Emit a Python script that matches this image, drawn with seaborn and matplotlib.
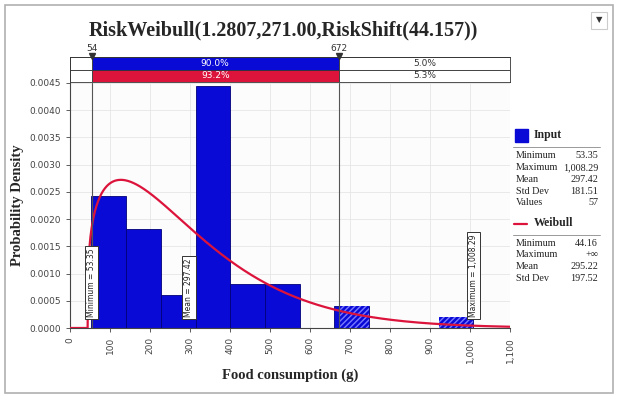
import numpy as np
import pandas as pd
import matplotlib
matplotlib.use("Agg")
import matplotlib.pyplot as plt
import seaborn as sns

# histogram of the input data (57 values, 11 bins from min to max)
bin_edges = [53.35, 140.16, 226.97, 313.78, 400.60, 487.41, 574.22,
             661.03, 747.84, 834.66, 921.47, 1008.29]
bin_counts = [12, 9, 3, 22, 4, 4, 0, 2, 0, 0, 1]

# fitted distribution
wb_shape, wb_scale, wb_shift = 1.2807, 271.00, 44.157

# delimiters and band percentages
left_mark, right_mark = 54, 672
band_input = ["90.0%", "5.0%"]
band_fit = ["93.2%", "5.3%"]

input_stats = [("Minimum", "53.35"), ("Maximum", "1,008.29"), ("Mean", "297.42"),
               ("Std Dev", "181.51"), ("Values", "57")]
fit_stats = [("Minimum", "44.16"), ("Maximum", "+\u221e"), ("Mean", "295.22"),
             ("Std Dev", "197.52")]

markers = [(53.35, "Minimum = 53.35"), (297.42, "Mean = 297.42"),
           (1008.29, "Maximum = 1,008.29")]

BLUE = "#0a0ad6"
RED = "#dc143c"
serif = "Liberation Serif"

sns.set_style("whitegrid")
plt.rcParams["font.family"] = ["DejaVu Sans"]

fig = plt.figure(figsize=(6.19, 4.01), dpi=100)
W, H = 619, 401


def px(x0, y0, x1, y1):
    return [x0 / W, 1 - y1 / H, (x1 - x0) / W, (y1 - y0) / H]


ax = fig.add_axes(px(70, 83, 510, 328))
ax.set_facecolor("#fcfcfc")

centers = [(a + b) / 2 for a, b in zip(bin_edges[:-1], bin_edges[1:])]
df = pd.DataFrame({"x": centers, "w": bin_counts})
sns.histplot(data=df, x="x", weights="w", bins=bin_edges, stat="density",
             color=BLUE, alpha=1, edgecolor="#00007a", linewidth=0.6, ax=ax)

# hatched part of the bars beyond the right delimiter
widths = np.diff(bin_edges)
dens = np.array(bin_counts) / (sum(bin_counts) * widths)
for i, d in enumerate(dens):
    lo, hi = bin_edges[i], bin_edges[i + 1]
    if d > 0 and hi > right_mark:
        lo = max(lo, right_mark)
        ax.bar(lo, d, width=hi - lo, align="edge", color=BLUE,
               hatch="//////", edgecolor="#7a7aff", linewidth=0, zorder=3)

# fitted Weibull density
xs = np.linspace(0, 1100, 800)
z = np.clip((xs - wb_shift) / wb_scale, 0, None)
pdf = np.where(xs > wb_shift,
               wb_shape / wb_scale * z ** (wb_shape - 1) * np.exp(-z ** wb_shape), 0)
sns.lineplot(x=xs, y=pdf, color=RED, linewidth=1.6, ax=ax, zorder=4)

for xv in (left_mark, right_mark):
    ax.axvline(xv, color="#555555", linewidth=0.8, zorder=5)

for xv, txt in markers:
    ax.text(xv, 0.0002, txt, rotation=90, ha="center", va="bottom", fontsize=5.5,
            color="#222222", zorder=6,
            bbox=dict(boxstyle="square,pad=0.3", fc="white", ec="#333333", lw=0.7))

ax.set_xlim(0, 1100)
ax.set_ylim(0, 0.0045)
ax.set_xticks(range(0, 1101, 100))
ax.set_xticklabels([f"{v:,}" for v in range(0, 1101, 100)], rotation=90)
ax.set_yticks(np.arange(0, 0.00451, 0.0005))
ax.set_yticklabels([f"{v:.4f}" for v in np.arange(0, 0.00451, 0.0005)])
ax.tick_params(labelsize=6.5, colors="#444444", length=3, width=0.6, left=True, bottom=True)
ax.grid(color="#e6e6e6", linewidth=0.6)
for s in ("top", "right"):
    ax.spines[s].set_visible(False)
for s in ("left", "bottom"):
    ax.spines[s].set_color("#444444")
    ax.spines[s].set_linewidth(0.8)
ax.set_xlabel("Food consumption (g)", fontfamily=serif, fontweight="bold", fontsize=10.5)
ax.set_ylabel("Probability Density", fontfamily=serif, fontweight="bold", fontsize=10.5)

# delimiter band
bx = fig.add_axes(px(70, 57, 510, 82))
bx.set_xlim(0, 1100)
bx.set_ylim(0, 2)
for row, (labels, col) in enumerate([(band_fit, RED), (band_input, BLUE)]):
    bx.barh(row + 0.5, right_mark - left_mark, left=left_mark, height=1, color=col,
            edgecolor="#333333", linewidth=0.6)
    bx.barh(row + 0.5, 1100 - right_mark, left=right_mark, height=1, color="white",
            edgecolor="#333333", linewidth=0.6)
    bx.barh(row + 0.5, left_mark, left=0, height=1, color="white",
            edgecolor="#333333", linewidth=0.6)
    bx.text((left_mark + right_mark) / 2, row + 0.5, labels[0], ha="center", va="center",
            fontsize=6.5, color="white")
    bx.text((right_mark + 1100) / 2, row + 0.5, labels[1], ha="center", va="center",
            fontsize=6.5, color="#333333")
bx.set_xticks([])
bx.set_yticks([])
bx.grid(False)
for s in bx.spines.values():
    s.set_color("#333333")
    s.set_linewidth(0.6)
for xv in (left_mark, right_mark):
    bx.plot([xv], [2.05], marker="v", markersize=5, color="#333333", clip_on=False)
    bx.text(xv, 2.35, f"{xv}", ha="center", va="bottom", fontsize=6.5, color="#333333")

fig.text(283 / W, 1 - 30 / H, "RiskWeibull(1.2807,271.00,RiskShift(44.157))",
         ha="center", va="center", fontfamily=serif, fontweight="bold", fontsize=14.5)

# side legend
fig.patches.append(plt.Rectangle((515 / W, 1 - 142 / H), 13 / W, 13 / H,
                                 transform=fig.transFigure, color=BLUE))
fig.text(534 / W, 1 - 135 / H, "Input", fontfamily=serif, fontweight="bold",
         fontsize=8.5, va="center")
fig.lines.append(plt.Line2D([513 / W, 600 / W], [1 - 147 / H] * 2,
                            transform=fig.transFigure, color="#999999", lw=0.7))
for i, (k, v) in enumerate(input_stats):
    y = 1 - (156 + i * 11.7) / H
    fig.text(516 / W, y, k, fontfamily=serif, fontsize=7.3, va="center", color="#222222")
    fig.text(598 / W, y, v, fontfamily=serif, fontsize=7.3, va="center", ha="right",
             color="#222222")
fig.lines.append(plt.Line2D([514 / W, 527 / W], [1 - 224 / H] * 2,
                            transform=fig.transFigure, color=RED, lw=1.6))
fig.text(534 / W, 1 - 223 / H, "Weibull", fontfamily=serif, fontweight="bold",
         fontsize=8.5, va="center")
fig.lines.append(plt.Line2D([513 / W, 600 / W], [1 - 235 / H] * 2,
                            transform=fig.transFigure, color="#999999", lw=0.7))
for i, (k, v) in enumerate(fit_stats):
    y = 1 - (243 + i * 11.7) / H
    fig.text(516 / W, y, k, fontfamily=serif, fontsize=7.3, va="center", color="#222222")
    fig.text(598 / W, y, v, fontfamily=serif, fontsize=7.3, va="center", ha="right",
             color="#222222")

# outer frame and menu button
fig.patches.append(plt.Rectangle((5 / W, 1 - 393 / H), 608 / W, 388 / H,
                                 transform=fig.transFigure, fill=False,
                                 ec="#b0b0b0", lw=1.2))
fig.patches.append(plt.Rectangle((591 / W, 1 - 29 / H), 16 / W, 17 / H,
                                 transform=fig.transFigure, fc="white",
                                 ec="#cccccc", lw=0.8))
fig.text(599 / W, 1 - 20 / H, "\u25bc", ha="center", va="center", fontsize=6,
         color="#333333")

fig.savefig("out.png", dpi=100)
